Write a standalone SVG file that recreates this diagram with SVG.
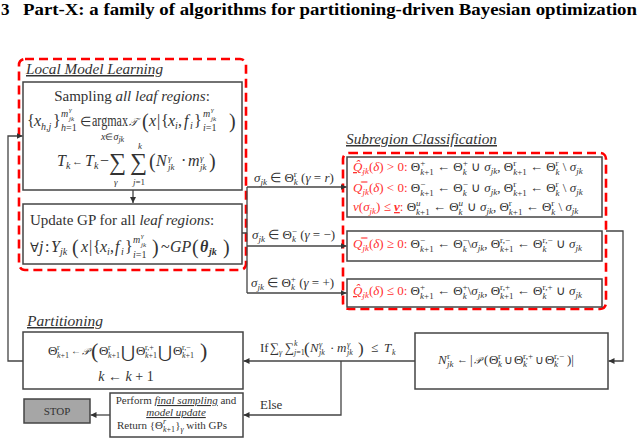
<svg xmlns="http://www.w3.org/2000/svg" width="640" height="440" viewBox="0 0 640 440">
<style>
.ti{font-family:"Liberation Serif",serif;font-weight:bold;font-size:17px;fill:#000}
.lb{font-family:"Liberation Serif",serif;font-style:italic;font-size:15px;fill:#333;text-decoration:underline}
.tx{font-family:"Liberation Serif",serif;fill:#333}
.i{font-style:italic}
.b{font-weight:bold}
.u{text-decoration:underline}
.red{fill:#ff3030}
.box{fill:#fff;stroke:#444;stroke-width:1.5}
.dash{fill:none;stroke:#ff0000;stroke-width:2.6;stroke-dasharray:9 5}
.ln{fill:none;stroke:#444;stroke-width:1.3}
.stop{fill:#a6a6a6;stroke:#444;stroke-width:1.5}
</style>
<defs>
<marker id="ar" viewBox="0 0 8 8" refX="8" refY="4" markerWidth="6" markerHeight="6" markerUnits="userSpaceOnUse" orient="auto">
<path d="M0,0 L8,4 L0,8 z" fill="#333"/>
</marker>
</defs>
<rect width="640" height="440" fill="#fff"/>
<text class="ti" x="1" y="15">3</text>
<text class="ti" x="23" y="15" textLength="614" lengthAdjust="spacingAndGlyphs">Part-X: a family of algorithms for partitioning-driven Bayesian optimization</text>

<g id="local-model-learning">
<rect class="dash" x="19" y="59" width="227" height="211" rx="6"/>
<text class="lb" x="26" y="74" textLength="137" lengthAdjust="spacingAndGlyphs">Local Model Learning</text>
</g>

<g id="sampling">
<rect class="box" x="23" y="82" width="219" height="108"/>
<text class="tx" x="132" y="101" font-size="15" text-anchor="middle">Sampling <tspan class="i">all leaf regions</tspan>:</text>
<text class="tx" font-size="16">
<tspan x="27" y="126">{</tspan><tspan x="34" class="i">x</tspan><tspan x="41" y="130" font-size="10" class="i">h,j</tspan><tspan x="53" y="126">}</tspan>
<tspan x="61" y="117" font-size="10" class="i">m</tspan><tspan x="69" y="112" font-size="7" class="i">γ</tspan><tspan x="69" y="121" font-size="7" class="i">jk</tspan>
<tspan x="61" y="131" font-size="10"><tspan class="i">h</tspan>=1</tspan>
<tspan x="80" y="126" font-size="13">∈</tspan><tspan x="92" textLength="36" lengthAdjust="spacingAndGlyphs">argmax</tspan><tspan x="129" font-size="11" class="i">𝒯</tspan>
<tspan x="142" y="128" font-size="20">(</tspan><tspan x="149" y="126" class="i">x</tspan><tspan x="157">|</tspan><tspan x="161">{</tspan><tspan x="168" class="i">x</tspan><tspan x="175" y="129" font-size="10" class="i">i</tspan><tspan x="178" y="126">,</tspan><tspan x="184" class="i">f</tspan><tspan x="190" y="129" font-size="10" class="i">i</tspan><tspan x="194" y="126">}</tspan>
<tspan x="203" y="117" font-size="10" class="i">m</tspan><tspan x="211" y="112" font-size="7" class="i">γ</tspan><tspan x="211" y="121" font-size="7" class="i">jk</tspan>
<tspan x="203" y="131" font-size="10"><tspan class="i">i</tspan>=1</tspan>
<tspan x="229" y="128" font-size="20">)</tspan>
</text>
<text class="tx" x="101" y="140" font-size="10"><tspan class="i">x</tspan><tspan font-size="9">∈</tspan><tspan class="i">σ</tspan><tspan font-size="8" class="i" y="142">jk</tspan></text>
<text class="tx" font-size="16">
<tspan x="57" y="166" class="i">T</tspan><tspan x="66" y="169" font-size="10" class="i">k</tspan><tspan x="72" y="165" font-size="11">←</tspan><tspan x="85" y="166" class="i">T</tspan><tspan x="94" y="169" font-size="10" class="i">k</tspan><tspan x="100" y="166">−</tspan>
<tspan x="109" y="170" font-size="24">∑</tspan><tspan x="130" y="170" font-size="24">∑</tspan>
<tspan x="149" y="168" font-size="20">(</tspan><tspan x="156" y="166" class="i">N</tspan><tspan x="168" y="161" font-size="9" class="i">γ</tspan><tspan x="168" y="170" font-size="9" class="i">jk</tspan>
<tspan x="181" y="166">·</tspan><tspan x="188" class="i">m</tspan><tspan x="200" y="161" font-size="9" class="i">γ</tspan><tspan x="200" y="170" font-size="9" class="i">jk</tspan>
<tspan x="209" y="168" font-size="20">)</tspan>
</text>
<text class="tx i" x="138" y="149" font-size="9">k</text>
<text class="tx i" x="114" y="185" font-size="9">γ</text>
<text class="tx" x="133" y="185" font-size="9"><tspan class="i">j</tspan>=1</text>
</g>

<g id="update-gp">
<rect class="box" x="23" y="204" width="219" height="60"/>
<text class="tx" x="30" y="225" font-size="15">Update GP for all <tspan class="i">leaf regions</tspan>:</text>
<text class="tx" font-size="16">
<tspan x="30" y="252" font-size="13">∀</tspan><tspan x="39" class="i">j</tspan><tspan x="45">:</tspan><tspan x="51" class="i">Y</tspan><tspan x="60" y="255" font-size="10" class="i">jk</tspan>
<tspan x="72" y="254" font-size="20">(</tspan><tspan x="81" y="252" class="i">x</tspan><tspan x="89">|</tspan><tspan x="93">{</tspan><tspan x="100" class="i">x</tspan><tspan x="107" y="255" font-size="10" class="i">i</tspan><tspan x="110" y="252">,</tspan><tspan x="115" class="i">f</tspan><tspan x="121" y="255" font-size="10" class="i">i</tspan><tspan x="125" y="252">}</tspan>
<tspan x="133" y="243" font-size="10" class="i">m</tspan><tspan x="141" y="238" font-size="7" class="i">γ</tspan><tspan x="141" y="247" font-size="7" class="i">jk</tspan>
<tspan x="133" y="258" font-size="10"><tspan class="i">i</tspan>=1</tspan>
<tspan x="152" y="254" font-size="20">)</tspan>
<tspan x="161" y="252">~</tspan><tspan x="170" class="i">GP</tspan><tspan x="192" font-size="20" y="254">(</tspan><tspan x="200" y="252" class="i b">θ</tspan><tspan x="209" y="255" font-size="10" class="i b">jk</tspan><tspan x="223" font-size="20" y="254">)</tspan>
</text>
</g>

<g id="subregion-classification">
<rect class="dash" x="343" y="153" width="263" height="156" rx="6"/>
<text class="lb" x="346" y="144" textLength="151" lengthAdjust="spacingAndGlyphs">Subregion Classification</text>
</g>

<g id="class-r">
<rect class="box" x="347" y="157" width="255" height="60"/>
<text class="tx" font-size="13" x="353" y="171"><tspan class="red i u">Q̂</tspan><tspan class="red i" font-size="9" dy="3">jk</tspan><tspan class="red" dy="-3">(</tspan><tspan class="red i">δ</tspan><tspan class="red">) &gt; 0:</tspan> Θ<tspan font-size="9" dy="-5">+</tspan><tspan font-size="9" dx="-5" dy="9" class="i">k</tspan><tspan font-size="9">+1</tspan><tspan dy="-4"> ← Θ</tspan><tspan font-size="9" dy="-5">+</tspan><tspan font-size="9" dx="-5" dy="9" class="i">k</tspan><tspan dy="-4" dx="1"> ∪ </tspan><tspan class="i">σ</tspan><tspan font-size="9" dy="3" class="i">jk</tspan><tspan dy="-3">, Θ</tspan><tspan font-size="9" dy="-5">r</tspan><tspan font-size="9" dx="-3" dy="9" class="i">k</tspan><tspan font-size="9">+1</tspan><tspan dy="-4"> ← Θ</tspan><tspan font-size="9" dy="-5">r</tspan><tspan font-size="9" dx="-3" dy="9" class="i">k</tspan><tspan dy="-4"> \ </tspan><tspan class="i">σ</tspan><tspan font-size="9" dy="3" class="i">jk</tspan></text>
<text class="tx" font-size="13" x="353" y="192"><tspan class="red i">Q̿</tspan><tspan class="red i" font-size="9" dy="3">jk</tspan><tspan class="red" dy="-3">(</tspan><tspan class="red i">δ</tspan><tspan class="red">) &lt; 0:</tspan> Θ<tspan font-size="9" dy="-5">−</tspan><tspan font-size="9" dx="-5" dy="9" class="i">k</tspan><tspan font-size="9">+1</tspan><tspan dy="-4"> ← Θ</tspan><tspan font-size="9" dy="-5">−</tspan><tspan font-size="9" dx="-5" dy="9" class="i">k</tspan><tspan dy="-4" dx="1"> ∪ </tspan><tspan class="i">σ</tspan><tspan font-size="9" dy="3" class="i">jk</tspan><tspan dy="-3">, Θ</tspan><tspan font-size="9" dy="-5">r</tspan><tspan font-size="9" dx="-3" dy="9" class="i">k</tspan><tspan font-size="9">+1</tspan><tspan dy="-4"> ← Θ</tspan><tspan font-size="9" dy="-5">r</tspan><tspan font-size="9" dx="-3" dy="9" class="i">k</tspan><tspan dy="-4"> \ </tspan><tspan class="i">σ</tspan><tspan font-size="9" dy="3" class="i">jk</tspan></text>
<text class="tx" font-size="13" x="353" y="211"><tspan class="red i">v</tspan><tspan class="red">(</tspan><tspan class="red i">σ</tspan><tspan class="red i" font-size="9" dy="3">jk</tspan><tspan class="red" dy="-3">) ≤ </tspan><tspan class="red i b u">v</tspan><tspan class="red">:</tspan> Θ<tspan font-size="9" dy="-5" class="i">u</tspan><tspan font-size="9" dx="-4.5" dy="9" class="i">k</tspan><tspan font-size="9">+1</tspan><tspan dy="-4"> ← Θ</tspan><tspan font-size="9" dy="-5" class="i">u</tspan><tspan font-size="9" dx="-4.5" dy="9" class="i">k</tspan><tspan dy="-4" dx="1"> ∪ </tspan><tspan class="i">σ</tspan><tspan font-size="9" dy="3" class="i">jk</tspan><tspan dy="-3">, Θ</tspan><tspan font-size="9" dy="-5">r</tspan><tspan font-size="9" dx="-3" dy="9" class="i">k</tspan><tspan font-size="9">+1</tspan><tspan dy="-4"> ← Θ</tspan><tspan font-size="9" dy="-5">r</tspan><tspan font-size="9" dx="-3" dy="9" class="i">k</tspan><tspan dy="-4"> \ </tspan><tspan class="i">σ</tspan><tspan font-size="9" dy="3" class="i">jk</tspan></text>
</g>

<g id="class-minus">
<rect class="box" x="347" y="231" width="255" height="30"/>
<text class="tx" font-size="13" x="353" y="248"><tspan class="red i">Q̿</tspan><tspan class="red i" font-size="9" dy="3">jk</tspan><tspan class="red" dy="-3">(</tspan><tspan class="red i">δ</tspan><tspan class="red">) ≥ 0:</tspan> Θ<tspan font-size="9" dy="-5">−</tspan><tspan font-size="9" dx="-5" dy="9" class="i">k</tspan><tspan font-size="9">+1</tspan><tspan dy="-4"> ← Θ</tspan><tspan font-size="9" dy="-5">−</tspan><tspan font-size="9" dx="-5" dy="9" class="i">k</tspan><tspan dy="-4" dx="1">\</tspan><tspan class="i">σ</tspan><tspan font-size="9" dy="3" class="i">jk</tspan><tspan dy="-3">, Θ</tspan><tspan font-size="9" dy="-5">r,−</tspan><tspan font-size="9" dx="-10" dy="9" class="i">k</tspan><tspan font-size="9">+1</tspan><tspan dy="-4"> ← Θ</tspan><tspan font-size="9" dy="-5">r,−</tspan><tspan font-size="9" dx="-10" dy="9" class="i">k</tspan><tspan dy="-4" dx="6"> ∪ </tspan><tspan class="i">σ</tspan><tspan font-size="9" dy="3" class="i">jk</tspan></text>
</g>

<g id="class-plus">
<rect class="box" x="347" y="279" width="255" height="28"/>
<text class="tx" font-size="13" x="353" y="295"><tspan class="red i u">Q̂</tspan><tspan class="red i" font-size="9" dy="3">jk</tspan><tspan class="red" dy="-3">(</tspan><tspan class="red i">δ</tspan><tspan class="red">) ≤ 0:</tspan> Θ<tspan font-size="9" dy="-5">+</tspan><tspan font-size="9" dx="-5" dy="9" class="i">k</tspan><tspan font-size="9">+1</tspan><tspan dy="-4"> ← Θ</tspan><tspan font-size="9" dy="-5">+</tspan><tspan font-size="9" dx="-5" dy="9" class="i">k</tspan><tspan dy="-4" dx="1">\</tspan><tspan class="i">σ</tspan><tspan font-size="9" dy="3" class="i">jk</tspan><tspan dy="-3">, Θ</tspan><tspan font-size="9" dy="-5">r,+</tspan><tspan font-size="9" dx="-10" dy="9" class="i">k</tspan><tspan font-size="9">+1</tspan><tspan dy="-4"> ← Θ</tspan><tspan font-size="9" dy="-5">r,+</tspan><tspan font-size="9" dx="-10" dy="9" class="i">k</tspan><tspan dy="-4" dx="6"> ∪ </tspan><tspan class="i">σ</tspan><tspan font-size="9" dy="3" class="i">jk</tspan></text>
</g>

<g id="count">
<rect class="box" x="415" y="333" width="193" height="56"/>
<text class="tx" font-size="13"><tspan x="438" y="364" class="i">N</tspan><tspan x="447" y="359" font-size="9">r</tspan><tspan x="447" y="367" font-size="9" class="i">jk</tspan><tspan x="457" y="363" font-size="11">←</tspan><tspan x="470" y="364">|</tspan><tspan x="474" font-size="10" class="i">𝒫</tspan><tspan x="484">(</tspan><tspan x="489">Θ</tspan><tspan x="498" y="359" font-size="9">r</tspan><tspan x="498" y="367" font-size="9" class="i">k</tspan><tspan x="504" y="364" font-size="12">∪</tspan><tspan x="514">Θ</tspan><tspan x="523" y="359" font-size="9">r,+</tspan><tspan x="523" y="367" font-size="9" class="i">k</tspan><tspan x="535" y="364" font-size="12">∪</tspan><tspan x="545">Θ</tspan><tspan x="554" y="359" font-size="9">r,−</tspan><tspan x="554" y="367" font-size="9" class="i">k</tspan><tspan x="567" y="364">)|</tspan></text>
</g>

<g id="partitioning">
<rect class="box" x="23" y="332" width="220" height="57"/>
<text class="lb" x="27" y="326" textLength="76" lengthAdjust="spacingAndGlyphs">Partitioning</text>
<text class="tx" font-size="13"><tspan x="48" y="355">Θ</tspan><tspan x="57" y="350" font-size="8">r</tspan><tspan x="57" y="358" font-size="8"><tspan class="i">k</tspan>+1</tspan><tspan x="71" y="354" font-size="10">←</tspan><tspan x="82" y="355" font-size="10" class="i">𝒫</tspan><tspan x="91" y="358" font-size="22">(</tspan><tspan x="99" y="355">Θ</tspan><tspan x="108" y="350" font-size="8">r</tspan><tspan x="108" y="358" font-size="8"><tspan class="i">k</tspan>+1</tspan><tspan x="121" y="358" font-size="17">⋃</tspan><tspan x="136" y="355">Θ</tspan><tspan x="145" y="350" font-size="8">r,+</tspan><tspan x="145" y="358" font-size="8"><tspan class="i">k</tspan>+1</tspan><tspan x="158" y="358" font-size="17">⋃</tspan><tspan x="173" y="355">Θ</tspan><tspan x="182" y="350" font-size="8">r,−</tspan><tspan x="182" y="358" font-size="8"><tspan class="i">k</tspan>+1</tspan><tspan x="200" y="358" font-size="22">)</tspan></text>
<text class="tx" font-size="14" x="126" y="381" text-anchor="middle"><tspan class="i">k</tspan> ← <tspan class="i">k</tspan> + 1</text>
</g>

<g id="final">
<rect class="box" x="110" y="393" width="133" height="44"/>
<text class="tx" font-size="11" x="176" y="404" text-anchor="middle">Perform <tspan class="i u">final sampling</tspan> and</text>
<text class="tx i u" font-size="11" x="176" y="416" text-anchor="middle">model update</text>
<text class="tx" font-size="11" x="117" y="429">Return {Θ<tspan font-size="8" dy="-5" class="i">r</tspan><tspan font-size="8" dx="-3" dy="8" class="i">k</tspan><tspan font-size="8">+1</tspan><tspan dy="-3">}</tspan><tspan font-size="8" dy="3" class="i">γ</tspan><tspan dy="-3"> with GPs</tspan></text>
</g>

<g id="stop">
<rect class="stop" x="24" y="399" width="66" height="24"/>
<text class="tx" font-size="11" x="57" y="415" text-anchor="middle" fill="#222">STOP</text>
</g>

<g id="connectors">
<path class="ln" d="M133,190 V203" marker-end="url(#ar)"/>
<path class="ln" d="M23,361 H8 V136 H22.5" marker-end="url(#ar)"/>
<path class="ln" d="M242,233 H247 M247,187 V293"/>
<path class="ln" d="M247,187 H346.5" marker-end="url(#ar)"/>
<path class="ln" d="M247,246 H346.5" marker-end="url(#ar)"/>
<path class="ln" d="M247,293 H346.5" marker-end="url(#ar)"/>
<path class="ln" d="M606,231 H623 V361 H608.5" marker-end="url(#ar)"/>
<path class="ln" d="M415,361 H243.5" marker-end="url(#ar)"/>
<path class="ln" d="M341,361 V415 H243.5" marker-end="url(#ar)"/>
<path class="ln" d="M110,415 H90.5" marker-end="url(#ar)"/>
<text class="tx" font-size="13" x="254" y="182"><tspan class="i">σ</tspan><tspan font-size="9" dy="3" class="i">jk</tspan><tspan dy="-3"> ∈ Θ</tspan><tspan font-size="9" dy="-5">r</tspan><tspan font-size="9" dx="-3" dy="8" class="i">k</tspan><tspan dy="-3"> (</tspan><tspan class="i">γ</tspan> = <tspan class="i">r</tspan>)</text>
<text class="tx" font-size="13" x="252" y="239"><tspan class="i">σ</tspan><tspan font-size="9" dy="3" class="i">jk</tspan><tspan dy="-3"> ∈ Θ</tspan><tspan font-size="9" dy="-5">−</tspan><tspan font-size="9" dx="-5" dy="8" class="i">k</tspan><tspan dy="-3" dx="1"> (</tspan><tspan class="i">γ</tspan> = −)</text>
<text class="tx" font-size="13" x="251" y="287"><tspan class="i">σ</tspan><tspan font-size="9" dy="3" class="i">jk</tspan><tspan dy="-3"> ∈ Θ</tspan><tspan font-size="9" dy="-5">+</tspan><tspan font-size="9" dx="-5" dy="8" class="i">k</tspan><tspan dy="-3" dx="1"> (</tspan><tspan class="i">γ</tspan> = +)</text>
<text class="tx" font-size="13"><tspan x="260" y="352">If</tspan><tspan x="270">∑</tspan><tspan x="279" y="355" font-size="8" class="i">γ</tspan><tspan x="285" y="352">∑</tspan><tspan x="294" y="346" font-size="8" class="i">k</tspan><tspan x="294" y="355" font-size="8"><tspan class="i">j</tspan>=1</tspan><tspan x="304" y="354" font-size="17">(</tspan><tspan x="310" y="352" class="i">N</tspan><tspan x="319" y="347" font-size="8" class="i">γ</tspan><tspan x="319" y="355" font-size="8" class="i">jk</tspan><tspan x="330" y="352">·</tspan><tspan x="337" class="i">m</tspan><tspan x="347" y="347" font-size="8" class="i">γ</tspan><tspan x="347" y="355" font-size="8" class="i">jk</tspan><tspan x="358" y="354" font-size="17">)</tspan><tspan x="371" y="352">≤</tspan><tspan x="384" class="i">T</tspan><tspan x="392" y="355" font-size="8" class="i">k</tspan></text>
<text class="tx" font-size="13" x="260" y="409">Else</text>
</g>
</svg>
